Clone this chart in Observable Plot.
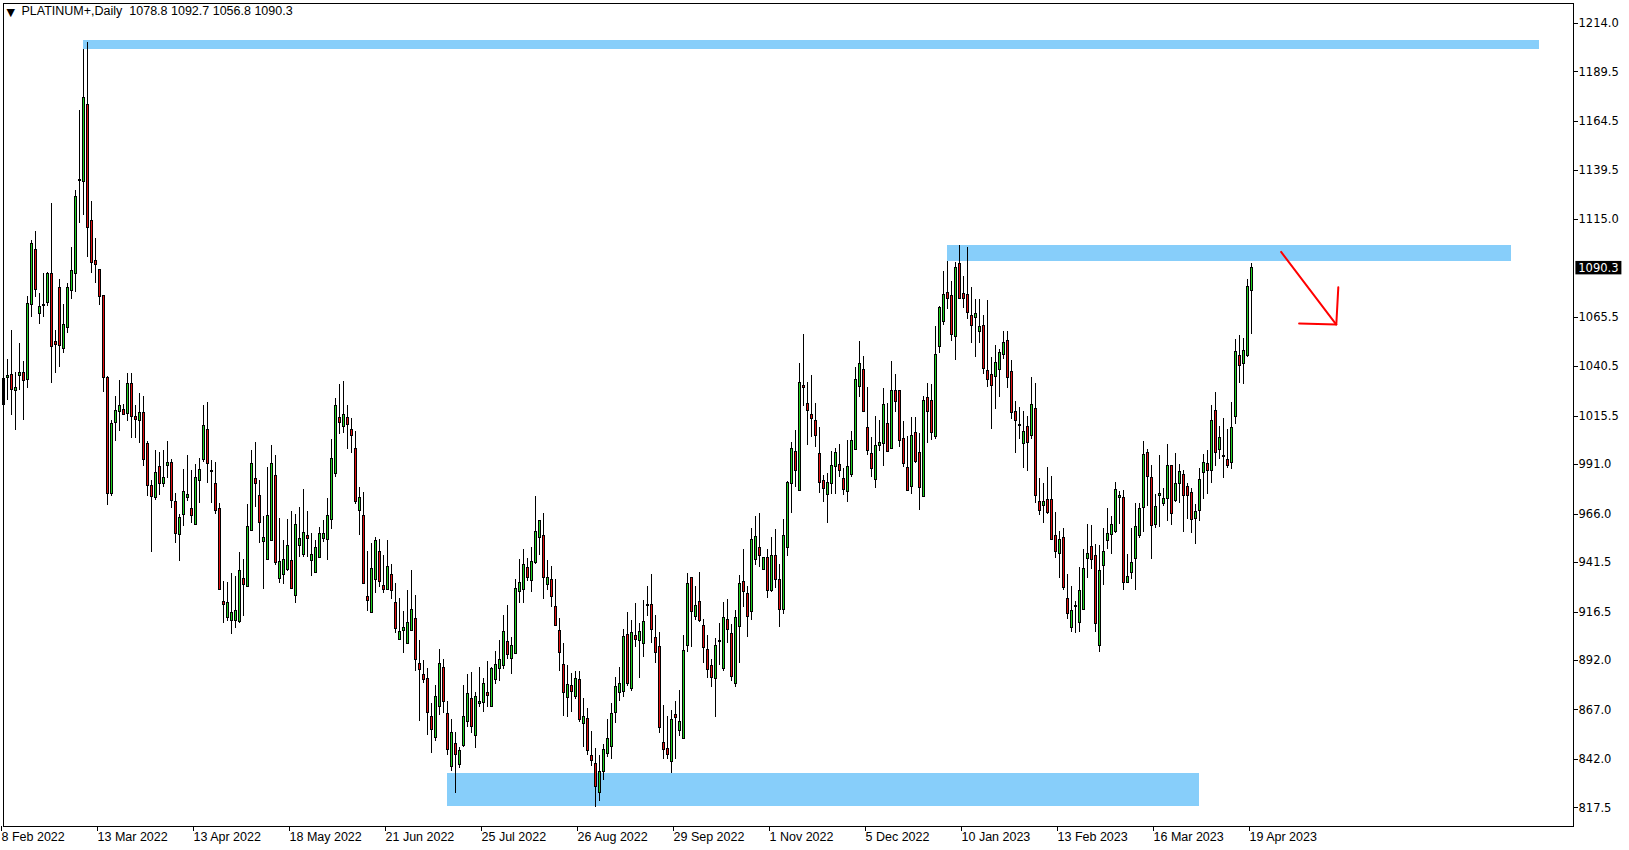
<!DOCTYPE html>
<html><head><meta charset="utf-8">
<script src="https://cdn.jsdelivr.net/npm/d3@7"></script>
<script src="https://cdn.jsdelivr.net/npm/@observablehq/plot@0.6"></script>
<style>html,body{margin:0;padding:0;background:#fff;overflow:hidden}</style>
</head><body><div id="chart"></div>
<script>
const symbol = "PLATINUM+,Daily";
const opens = [
1020.9,1035.0,1036.4,1028.1,1035.9,1037.1,1033.9,1071.6,1099.3,1067.2,
1071.0,1072.6,1087.1,1053.2,1080.4,1049.5,1060.1,1079.0,1087.4,1134.3,
1133.8,1172.9,1113.9,1093.7,1089.5,1076.0,1034.9,976.2,1011.9,1017.5,
1018.4,1016.4,1031.8,1015.3,1013.3,1017.2,1001.5,980.3,974.2,989.6,
981.1,990.4,991.9,972.2,955.5,965.6,974.2,968.7,960.7,982.7,
993.4,1008.6,987.2,981.3,968.7,921.7,913.6,911.9,911.9,911.4,
933.3,929.1,957.4,983.8,974.9,951.8,942.9,952.3,985.0,933.3,
935.3,937.5,942.4,924.7,949.8,945.1,955.0,942.4,936.1,943.9,
953.5,953.0,963.1,986.4,1014.7,1009.9,1014.7,1008.6,999.0,967.8,
965.1,924.0,916.1,932.9,946.9,929.8,927.7,935.3,921.0,902.5,
906.8,900.4,907.0,913.1,890.0,884.8,882.7,863.5,852.9,868.4,
888.3,865.0,838.1,849.9,839.4,848.7,860.8,872.6,853.9,870.1,
870.6,875.7,868.4,882.2,887.8,889.1,901.1,892.8,895.4,926.4,
927.7,939.0,932.4,941.4,954.0,955.0,930.2,932.9,918.8,907.0,
889.8,873.1,879.2,873.5,882.2,860.0,862.2,843.5,839.8,824.9,
835.7,844.5,848.5,865.4,875.5,876.2,905.0,877.7,904.4,901.8,
900.4,919.5,920.1,903.5,898.9,850.4,847.4,840.8,864.6,856.6,
852.4,899.1,933.8,913.9,921.5,909.5,897.4,889.3,882.7,901.3,
887.6,912.6,905.5,879.9,908.9,931.9,925.7,916.4,942.9,949.0,
937.8,943.9,927.0,944.9,932.8,917.6,948.8,981.3,997.5,977.6,
1030.8,1021.7,1016.2,1013.3,996.4,982.8,975.7,981.3,990.0,990.9,
983.8,977.1,985.8,998.5,1030.2,1038.9,1009.6,996.4,983.3,1000.3,
1001.2,1011.6,999.0,1028.0,1028.0,1004.0,989.4,979.6,1007.1,997.0,
974.6,1024.6,1023.4,1004.9,1050.4,1063.0,1077.7,1076.3,1055.4,1092.5,
1077.3,1076.8,1066.2,1065.0,1057.9,1061.2,1038.4,1036.4,1035.5,1038.9,
1046.5,1053.7,1037.6,1017.4,1010.3,1001.5,1009.8,1005.6,1019.2,971.9,
970.2,972.9,972.9,954.7,945.9,954.0,923.3,908.4,918.8,910.9,
917.6,943.2,949.3,944.9,899.1,939.9,952.2,955.5,956.7,974.2,
974.2,931.4,936.2,943.2,954.7,969.0,997.1,984.2,960.6,974.9,
971.2,973.5,990.1,972.4,981.3,985.8,979.9,976.9,963.4,967.7,
986.7,991.4,987.9,1018.2,998.5,995.1,993.1,991.7,1015.0,1046.0,
1042.0,1046.0,1078.8];
const highs = [
1037.7,1044.0,1058.8,1037.7,1052.4,1043.3,1076.0,1104.3,1109.0,1077.3,
1087.4,1088.3,1123.2,1058.8,1084.4,1071.9,1082.4,1100.6,1129.6,1170.0,
1200.6,1204.3,1124.0,1105.1,1089.5,1076.5,1035.5,1013.3,1025.4,1033.5,
1021.4,1036.9,1036.9,1020.9,1026.8,1025.4,1002.5,983.0,998.1,997.1,
998.1,1002.7,993.4,976.2,965.8,988.4,995.6,988.0,990.9,994.0,
1020.9,1022.4,993.1,991.9,971.2,932.1,931.3,935.8,934.5,946.8,
942.9,970.9,998.1,1002.2,983.0,964.8,989.7,1000.7,995.6,963.6,
952.7,963.3,967.3,965.8,969.3,978.4,967.3,956.4,952.7,959.4,
962.8,974.1,1003.5,1024.4,1031.3,1033.0,1020.7,1014.2,1007.7,979.3,
977.1,946.9,951.1,954.0,953.0,945.1,952.5,940.5,931.1,923.5,
916.6,927.4,937.5,924.7,902.1,892.0,887.8,870.4,879.4,897.6,
892.3,871.1,862.0,855.6,848.2,879.2,884.9,886.0,875.7,888.3,
883.1,891.5,888.6,896.5,902.1,914.7,919.8,903.5,933.0,943.2,
948.1,943.7,948.9,974.9,962.8,966.5,942.5,939.5,932.9,913.2,
900.4,889.5,885.3,886.6,886.6,873.0,867.6,855.9,847.4,844.0,
849.5,862.4,870.1,883.2,888.3,907.5,916.3,912.2,920.6,910.9,
922.3,929.4,935.5,914.7,906.2,869.3,863.7,866.7,871.3,876.8,
904.6,935.8,934.0,929.4,936.5,912.6,904.6,892.3,902.9,910.5,
921.3,922.8,910.2,917.3,934.8,947.9,929.4,958.6,964.8,966.1,
943.9,948.0,954.0,958.0,940.3,963.1,982.6,1002.3,1008.2,1042.3,
1056.8,1032.5,1036.0,1022.1,1009.9,985.5,986.3,997.6,999.3,1001.2,
988.9,1003.2,1007.9,1040.3,1053.4,1045.6,1030.2,1004.9,1015.3,1013.3,
1029.3,1022.1,1043.1,1036.5,1028.0,1012.8,1005.2,1014.6,1014.6,1006.6,
1025.4,1032.2,1031.3,1060.8,1071.0,1088.6,1093.7,1083.6,1093.2,1101.6,
1086.1,1100.7,1080.5,1074.6,1074.6,1066.4,1073.8,1045.3,1051.0,1049.0,
1058.3,1058.3,1043.6,1022.9,1020.0,1017.9,1015.3,1035.2,1032.2,984.2,
981.6,989.7,985.0,966.8,957.2,958.7,935.3,929.4,921.8,939.0,
948.0,960.6,960.1,950.5,950.0,958.9,968.7,964.8,982.0,977.4,
977.9,945.4,958.6,971.5,971.5,1002.5,998.8,990.4,975.7,995.4,
979.1,1001.0,990.1,996.5,990.9,987.9,981.6,979.1,970.7,989.2,
996.0,998.2,1020.7,1027.5,1010.3,1014.5,1008.6,1022.3,1054.4,1056.1,
1054.9,1084.7,1092.7];
const lows = [
1004.9,1023.4,1015.8,1008.3,1028.5,1013.3,1029.6,1065.5,1075.6,1061.8,
1065.5,1070.9,1031.8,1037.2,1039.9,1047.0,1057.5,1074.3,1078.2,1113.0,
1116.9,1095.9,1087.8,1082.4,1071.4,1027.6,970.3,975.0,1002.9,1007.9,
1015.8,1013.0,1004.0,1004.0,1001.5,990.1,975.1,946.8,972.9,975.6,
979.6,983.8,968.7,951.0,942.2,959.9,972.5,961.4,960.2,971.2,
992.3,981.6,971.2,965.6,927.7,910.5,911.9,905.2,908.0,910.5,
914.2,929.1,957.4,969.5,951.0,927.7,942.9,952.3,940.0,930.8,
930.4,937.2,928.1,921.0,944.2,944.2,944.2,934.6,935.8,943.9,
951.8,942.6,958.1,984.3,1006.2,1006.9,998.8,996.5,970.9,955.4,
930.8,916.9,916.1,926.0,928.7,926.0,927.7,922.7,905.5,902.5,
895.4,900.4,907.0,886.6,861.3,880.5,854.3,845.2,851.2,864.2,
865.4,843.8,836.1,824.6,837.3,847.9,858.3,855.3,847.4,868.4,
865.9,868.4,868.4,879.9,881.6,887.5,892.5,884.8,894.9,920.7,
920.7,931.9,926.5,940.4,945.1,922.7,927.4,919.0,909.5,886.6,
863.9,863.4,865.9,872.1,860.7,848.2,844.0,838.4,817.9,820.9,
831.4,843.1,841.8,860.0,871.5,873.5,878.9,876.5,898.8,883.1,
893.7,914.4,900.4,890.6,855.3,842.1,841.8,834.7,842.1,853.6,
852.4,896.2,898.7,912.2,911.4,890.3,882.7,878.2,863.0,889.5,
886.6,900.8,881.6,878.2,890.3,918.6,903.8,912.2,940.0,938.8,
937.8,923.2,926.5,928.2,908.5,915.3,944.6,966.1,979.3,977.6,
1020.4,1000.7,1004.9,999.8,976.2,972.0,961.4,975.9,975.9,984.3,
975.4,972.0,984.7,998.5,1024.8,1017.5,995.6,984.7,979.1,997.8,
990.2,997.3,998.5,1017.5,999.8,989.7,977.6,975.9,991.7,967.8,
974.6,1001.5,1003.2,1003.9,1047.0,1061.2,1069.6,1053.2,1043.6,1074.6,
1070.1,1064.5,1052.4,1045.3,1052.1,1036.4,1030.2,1008.6,1019.0,1025.1,
1044.0,1029.6,1013.6,996.8,1003.9,989.2,987.5,1003.9,971.2,965.1,
961.4,965.6,952.7,943.7,933.6,927.4,912.6,906.2,905.5,906.2,
917.6,933.6,938.2,906.2,896.1,929.7,948.3,945.4,956.4,960.6,
927.4,931.1,932.8,927.4,953.8,956.7,969.8,942.9,958.9,959.4,
969.8,962.3,960.1,971.9,971.5,956.7,963.4,956.4,950.5,962.3,
973.2,975.7,981.3,990.1,993.8,984.2,989.2,988.7,1011.1,1032.2,
1031.3,1045.3,1056.8];
const closes = [
1034.4,1035.6,1028.8,1029.5,1037.1,1033.2,1072.3,1102.3,1079.3,1070.9,
1071.5,1087.1,1050.4,1051.6,1051.1,1061.7,1080.4,1089.1,1126.5,1134.3,
1176.4,1110.7,1092.8,1092.0,1075.6,1034.9,975.9,1011.6,1017.9,1020.4,
1016.2,1031.8,1015.0,1013.6,1017.0,993.4,980.3,974.6,986.9,981.0,
984.3,991.9,972.7,956.0,964.1,977.3,975.4,965.0,984.3,988.4,
1010.6,991.4,987.2,967.5,927.7,920.0,921.0,915.9,917.0,937.2,
930.1,959.4,991.4,981.0,961.4,954.0,964.8,991.1,941.2,941.9,
942.9,950.0,928.1,960.6,953.5,956.5,953.5,945.4,949.0,955.7,
956.0,965.1,993.9,1020.7,1012.1,1016.2,1011.1,1005.6,972.0,974.2,
930.8,922.3,938.3,952.5,931.8,927.7,939.4,927.2,907.9,906.5,
908.2,911.0,917.6,892.4,887.3,882.2,865.6,857.0,873.7,890.3,
870.9,846.9,855.4,844.3,846.4,863.5,875.2,858.3,873.5,871.1,
880.2,874.0,887.8,889.5,892.3,906.2,894.7,899.1,927.9,931.4,
940.5,933.6,942.0,956.7,962.3,933.8,933.8,924.0,909.5,895.9,
875.7,879.7,876.0,882.7,862.0,863.5,846.5,841.0,828.3,835.7,
846.9,852.4,865.0,878.5,880.2,904.1,880.2,906.0,902.4,906.3,
911.5,919.5,907.5,895.9,857.9,846.9,844.3,862.0,863.0,861.0,
896.7,930.7,916.3,919.3,911.9,898.4,887.3,883.2,899.4,901.3,
913.6,907.2,883.6,913.6,930.7,926.5,913.9,953.0,954.3,944.7,
943.9,927.0,944.9,932.8,917.3,955.0,981.8,999.0,987.7,1032.5,
1029.8,1018.0,1014.0,1005.4,981.6,978.8,981.6,990.4,997.1,988.0,
978.3,990.0,1002.7,1033.8,1041.9,1017.5,997.8,988.9,1000.5,1002.0,
1021.2,997.6,1028.0,1022.6,1002.9,991.4,977.9,1005.4,992.2,979.1,
1023.4,1017.5,1006.9,1046.5,1070.4,1076.8,1074.6,1056.4,1090.3,1074.6,
1074.6,1067.6,1061.2,1067.2,1060.8,1039.4,1033.9,1030.8,1042.6,1047.3,
1052.7,1035.0,1017.0,1013.1,1010.3,1007.7,1001.9,1021.2,975.2,967.8,
972.2,966.5,952.7,946.9,952.7,928.6,915.4,916.8,918.8,926.9,
938.3,945.9,942.9,910.5,937.3,947.0,956.0,960.6,978.3,975.2,
931.1,934.1,941.2,959.4,968.5,995.8,984.7,960.2,969.5,976.2,
973.5,990.1,966.1,981.3,987.4,975.2,975.2,963.1,967.3,983.3,
991.7,987.9,1013.1,997.1,1004.5,995.1,990.4,1009.4,1048.0,1040.9,
1048.5,1081.0,1090.3];

// x-axis labels every 24 bars
const dateLabels = ["8 Feb 2022","13 Mar 2022","13 Apr 2022","18 May 2022","21 Jun 2022","25 Jul 2022","26 Aug 2022","29 Sep 2022","1 Nov 2022","5 Dec 2022","10 Jan 2023","13 Feb 2023","16 Mar 2023","19 Apr 2023"];
const labelBars = [0,24,48,72,96,120,144,168,192,216,240,264,288,312];
// y-axis tick labels
const yTicks = [1214.0,1189.5,1164.5,1139.5,1115.0,1065.5,1040.5,1015.5,991.0,966.0,941.5,916.5,892.0,867.0,842.0,817.5];
// supply/demand zones (bar index from/to, price low/high)
const zoneFrom = [19.9, 235.9, 110.9];
const zoneTo   = [383.9, 376.9, 298.9];
const zoneLow  = [1201.0, 1093.8, 818.2];
const zoneHigh = [1205.4, 1101.8, 835.0];
// red arrow (bar index, price)
const arrowBars   = [319.4, 333.2];
const arrowPrices = [1098.5, 1061.8];
const headBars    = [323.9, 333.2, 333.7];
const headPrices  = [1062.3, 1061.8, 1080.6];

const bars = opens.map((o, i) => ({i, o, h: highs[i], l: lows[i], c: closes[i]}));
const zones = zoneFrom.map((f, k) => ({f, t: zoneTo[k], lo: zoneLow[k], hi: zoneHigh[k]}));
const arrow = arrowBars.map((b, k) => ({b, p: arrowPrices[k]}));
const head = headBars.map((b, k) => ({b, p: headPrices[k]}));
const last = bars[bars.length - 1];

const GREEN = "#20d020", RED = "#e01010", ZONE = "#87cefa";
const AX = "DejaVu Sans", HD = "Liberation Sans";

const chart = Plot.plot({
  width: 1629, height: 850,
  marginLeft: 3, marginRight: 56, marginTop: 3, marginBottom: 24,
  style: {background: "#fff", color: "#000"},
  x: {type: "linear", domain: [0, 392.5]},
  y: {domain: [808.1, 1224.06]},
  marks: [
    Plot.rect(zones, {x1: "f", x2: "t", y1: "lo", y2: "hi", fill: ZONE, shapeRendering: "crispEdges"}),
    Plot.ruleX(bars, {x: "i", y1: "l", y2: "h", stroke: "#000", strokeWidth: 1, shapeRendering: "crispEdges"}),
    Plot.rect(bars, {
      x1: d => d.i - 0.25, x2: d => d.i + 0.25,
      y1: d => Math.min(d.o, d.c),
      y2: d => Math.max(Math.max(d.o, d.c), Math.min(d.o, d.c) + 0.5),
      fill: d => d.c > d.o ? GREEN : d.c < d.o ? RED : "#000",
      stroke: "#000", strokeWidth: 1, shapeRendering: "crispEdges"
    }),
    Plot.line(arrow, {x: "b", y: "p", stroke: "#ff0000", strokeWidth: 2}),
    Plot.line(head, {x: "b", y: "p", stroke: "#ff0000", strokeWidth: 2}),
    Plot.frame({stroke: "#000", shapeRendering: "crispEdges"}),
    Plot.axisX({ticks: labelBars, tickFormat: d => dateLabels[labelBars.indexOf(d)], tickSize: 5, tickPadding: 1,
      textAnchor: "start", dx: -2, label: null, fontSize: 12.5, fontFamily: HD, shapeRendering: "crispEdges"}),
    Plot.axisY({anchor: "right", ticks: yTicks, tickFormat: d => d.toFixed(1), tickSize: 4, tickPadding: 1,
      label: null, fontSize: 11.5, fontFamily: AX, shapeRendering: "crispEdges"}),
    // current price box on the axis
    Plot.rect([last], {x1: () => 393.1, x2: () => 404.6, y1: d => d.c - 3.4, y2: d => d.c + 3.4, fill: "#000"}),
    Plot.text([last], {x: () => 393.7, y: "c", text: d => d.c.toFixed(1), fill: "#fff", textAnchor: "start",
      fontSize: 11.5, fontFamily: AX}),
    // header
    Plot.text(["\u25BC"], {frameAnchor: "top-left", dx: 3, dy: 5, textAnchor: "start", lineAnchor: "top", fontSize: 11, fontFamily: AX}),
    Plot.text([last], {frameAnchor: "top-left", dx: 18, dy: 3, textAnchor: "start", lineAnchor: "top",
      text: d => `${symbol}  ${d.o.toFixed(1)} ${d.h.toFixed(1)} ${d.l.toFixed(1)} ${d.c.toFixed(1)}`,
      fontSize: 12.5, fontFamily: HD, fill: "#000"})
  ]
});
document.getElementById("chart").append(chart);
</script>
</body></html>
